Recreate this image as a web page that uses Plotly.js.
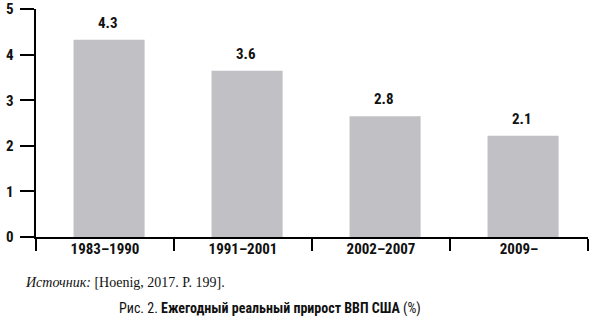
<!DOCTYPE html>
<html>
<head>
<meta charset="utf-8">
<script src="https://cdn.plot.ly/plotly-3.0.1.min.js"></script>
<style>html,body{margin:0;padding:0;background:#fff;}#chart{width:595px;height:321px;}</style>
</head>
<body>
<div id="chart"></div>
<script>
const categories = ["1983–1990", "1991–2001", "2002–2007", "2009–"];
const barHeights = [4.33, 3.65, 2.65, 2.22];
const valueLabels = ["4.3", "3.6", "2.8", "2.1"];
const yTicks = [0, 1, 2, 3, 4, 5];
const sourceText = "<i>Источник:</i> [Hoenig, 2017. P. 199].";
const captionText = "Рис. 2. <b>Ежегодный реальный прирост ВВП США</b> (%)";

const condFont = '"Liberation Sans Narrow", "Roboto Condensed", "Arial Narrow", "Liberation Sans", sans-serif';

const trace = {
  type: "bar",
  x: categories,
  y: barHeights,
  width: 0.515,
  offset: -0.228,
  marker: {color: "#c0c0c5", line: {width: 0}},
  hoverinfo: "none"
};

const annotations = categories.map((c, i) => ({
  x: c, y: barHeights[i], xref: "x", yref: "y",
  text: "<b>" + valueLabels[i] + "</b>",
  showarrow: false, yanchor: "bottom", xanchor: "center",
  xshift: 3, yshift: 6,
  font: {family: condFont, size: 15, color: "#111"}
}));

const plotH = 321 - 9 - 84.3;
annotations.push({
  xref: "paper", yref: "paper", x: -0.0236, y: (236.7 - 282) / plotH,
  xanchor: "left", yanchor: "middle", showarrow: false,
  text: sourceText,
  font: {family: '"Liberation Serif", "DejaVu Serif", serif', size: 14, color: "#111"}
});
annotations.push({
  xref: "paper", yref: "paper", x: (270 - 36) / 552, y: (236.7 - 308) / plotH,
  xanchor: "center", yanchor: "middle", showarrow: false,
  text: captionText,
  font: {family: condFont, size: 14, color: "#111"}
});

const layout = {
  width: 595, height: 321,
  margin: {l: 36, r: 7, t: 9, b: 84.3},
  paper_bgcolor: "#fff", plot_bgcolor: "#fff",
  showlegend: false,
  xaxis: {
    type: "category",
    tickson: "boundaries",
    ticks: "outside", ticklen: 12, tickwidth: 2, tickcolor: "#000",
    showline: true, linecolor: "#000", linewidth: 2,
    showgrid: false, zeroline: false,
    ticklabelstandoff: -3,
    tickfont: {family: condFont, size: 15, color: "#111", weight: "bold"},
    fixedrange: true
  },
  yaxis: {
    range: [0, 5.002],
    tickmode: "array",
    tickvals: yTicks,
    ticktext: yTicks.map(String),
    ticks: "outside", ticklen: 14, tickwidth: 2, tickcolor: "#000",
    showline: true, linecolor: "#000", linewidth: 2.5,
    showgrid: false, zeroline: false,
    ticklabelstandoff: 3,
    ticklabeloverflow: "allow",
    tickfont: {family: condFont, size: 15, color: "#111", weight: "bold"},
    fixedrange: true
  },
  annotations: annotations
};

Plotly.newPlot("chart", [trace], layout, {displayModeBar: false, staticPlot: true});
</script>
</body>
</html>
